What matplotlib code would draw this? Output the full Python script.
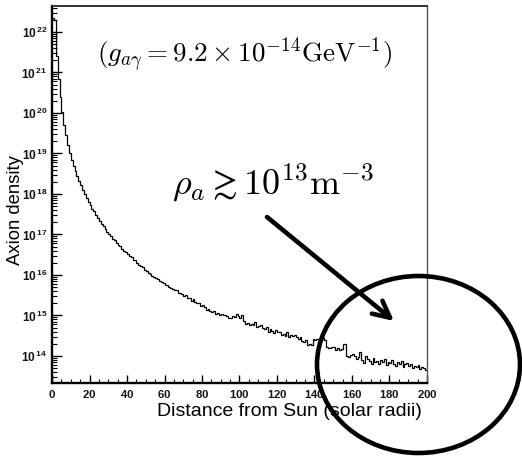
import numpy as np
import matplotlib
matplotlib.use("Agg")
import matplotlib.pyplot as plt
from matplotlib.patches import Ellipse
from matplotlib.ticker import LogLocator, MultipleLocator, FuncFormatter, NullFormatter, FixedLocator

# Axion density histogram vs distance from the Sun (1 solar-radius bins, 0..200)
bin_width = 1.0
n_bins = 200
log10_density = [
    22.35, 22.30, 21.40, 20.85, 20.40, 20.02, 19.70, 19.45, 19.22, 19.02,
    18.85, 18.70, 18.57, 18.45, 18.33, 18.22, 18.11, 18.00, 17.90, 17.81,
    17.72, 17.64, 17.57, 17.49, 17.41, 17.33, 17.27, 17.20, 17.13, 17.06,
    17.01, 16.96, 16.90, 16.87, 16.79, 16.74, 16.71, 16.64, 16.60, 16.57,
    16.51, 16.47, 16.44, 16.37, 16.36, 16.29, 16.25, 16.21, 16.19, 16.12,
    16.10, 16.06, 16.03, 15.98, 15.95, 15.92, 15.90, 15.84, 15.83, 15.81,
    15.76, 15.75, 15.71, 15.67, 15.66, 15.62, 15.64, 15.56, 15.55, 15.52,
    15.49, 15.50, 15.43, 15.42, 15.36, 15.40, 15.33, 15.30, 15.31, 15.24,
    15.25, 15.20, 15.14, 15.17, 15.10, 15.08, 15.11, 15.04, 15.05, 15.02,
    15.03, 15.00, 15.01, 14.98, 14.95, 14.94, 14.98, 14.96, 15.04, 14.99,
    14.93, 15.00, 14.86, 14.79, 14.82, 14.76, 14.80, 14.76, 14.85, 14.72,
    14.74, 14.77, 14.70, 14.66, 14.72, 14.60, 14.66, 14.62, 14.56, 14.63,
    14.58, 14.60, 14.52, 14.55, 14.50, 14.59, 14.47, 14.53, 14.49, 14.52,
    14.46, 14.42, 14.48, 14.38, 14.35, 14.40, 14.28, 14.30, 14.27, 14.42,
    14.40, 14.43, 14.41, 14.38, 14.44, 14.40, 14.22, 14.20, 14.19, 14.21,
    14.23, 14.14, 14.20, 14.15, 14.17, 14.30, 14.29, 13.99, 13.98, 14.02,
    14.05, 14.00, 13.92, 13.98, 14.11, 13.90, 13.82, 14.00, 13.93, 13.88,
    13.80, 13.95, 13.84, 13.88, 13.79, 13.90, 13.86, 13.92, 13.78, 13.86,
    13.82, 13.90, 13.79, 13.76, 13.85, 13.80, 13.88, 13.74, 13.79, 13.82,
    13.75, 13.80, 13.70, 13.76, 13.73, 13.78, 13.68, 13.72, 13.70, 13.65,
]
x_ticks = [0, 20, 40, 60, 80, 100, 120, 140, 160, 180, 200]
x_label = "Distance from Sun (solar radii)"
y_label = "Axion density"
coupling_text = r"$(g_{a\gamma} = 9.2 \times 10^{-14}\mathrm{GeV}^{-1})$"
density_text = r"$\rho_a \gtrsim 10^{13}\mathrm{m}^{-3}$"

plt.rcParams["mathtext.fontset"] = "custom"
plt.rcParams["mathtext.rm"] = "Liberation Sans:bold"
plt.rcParams["mathtext.it"] = "Liberation Sans:bold"
plt.rcParams["mathtext.bf"] = "Liberation Sans:bold"

W, H = 522, 458
fig = plt.figure(figsize=(W / 100, H / 100), dpi=100)
fig.patch.set_facecolor("white")
ax = fig.add_axes([52 / W, 75 / H, 375 / W, 377 / H])

edges = np.arange(n_bins + 1) * bin_width
density = 10.0 ** np.array(log10_density)
ax.stairs(density, edges, color="black", linewidth=0.9, baseline=None)

ax.set_yscale("log")
ax.set_xlim(0, 200)
ax.set_ylim(10 ** 13.333, 10 ** 22.642)

ax.xaxis.set_major_locator(FixedLocator(x_ticks))
ax.xaxis.set_minor_locator(MultipleLocator(5))
ax.xaxis.set_major_formatter(FuncFormatter(lambda v, p: r"$\mathbf{%d}$" % v))
ax.yaxis.set_major_locator(LogLocator(base=10, numticks=20))
ax.yaxis.set_minor_locator(LogLocator(base=10, subs=np.arange(2, 10), numticks=20))
ax.yaxis.set_minor_formatter(NullFormatter())
ax.yaxis.set_major_formatter(
    FuncFormatter(lambda v, p: r"$\mathbf{10^{\,%d}}$" % round(np.log10(v))))

ax.tick_params(axis="both", which="both", direction="in", top=False, right=False,
               colors="black", labelcolor="#151515")
ax.tick_params(axis="y", which="major", length=7, width=1.0, labelsize=8.6, pad=3.5)
ax.tick_params(axis="y", which="minor", length=3.5, width=0.8)
ax.tick_params(axis="x", which="major", length=6, width=1.0, labelsize=8.2, pad=3.5)
ax.tick_params(axis="x", which="minor", length=3, width=0.8)

for side in ("left", "bottom"):
    ax.spines[side].set_linewidth(1.7)
    ax.spines[side].set_color("black")
ax.spines["top"].set_linewidth(1.3)
ax.spines["top"].set_color("#222222")
ax.spines["right"].set_linewidth(1.0)
ax.spines["right"].set_color("#555555")

ax.set_xlabel(x_label, fontsize=14, family="Liberation Sans", ha="right")
ax.xaxis.set_label_coords(1.0 - 5 / 375, -(411 - 383) / 377)
ax.xaxis.label.set_va("center")
ax.set_ylabel(y_label, fontsize=13.3, family="Liberation Sans", va="center")
ax.yaxis.set_label_coords(-(52 - 15.5) / 375, (383 - 210) / 377)

fig.text(244 / W, 1 - 56 / H, coupling_text, fontsize=19.5, math_fontfamily="cm",
         ha="center", va="center")
fig.text(273 / W, 1 - 183 / H, density_text, fontsize=26, math_fontfamily="cm",
         ha="center", va="center")

ax.annotate("", xy=(394, H - 321), xycoords="figure pixels",
            xytext=(267, H - 217), textcoords="figure pixels",
            arrowprops=dict(arrowstyle="->,head_length=1.2,head_width=0.6",
                            lw=3.3, color="black", shrinkA=0, shrinkB=0))

fig.add_artist(Ellipse((418.5 / W, 1 - 364.5 / H), 203 / W, 177 / H,
                       transform=fig.transFigure, fill=False,
                       edgecolor="black", linewidth=3.3))

fig.savefig("out.png", dpi=100)
